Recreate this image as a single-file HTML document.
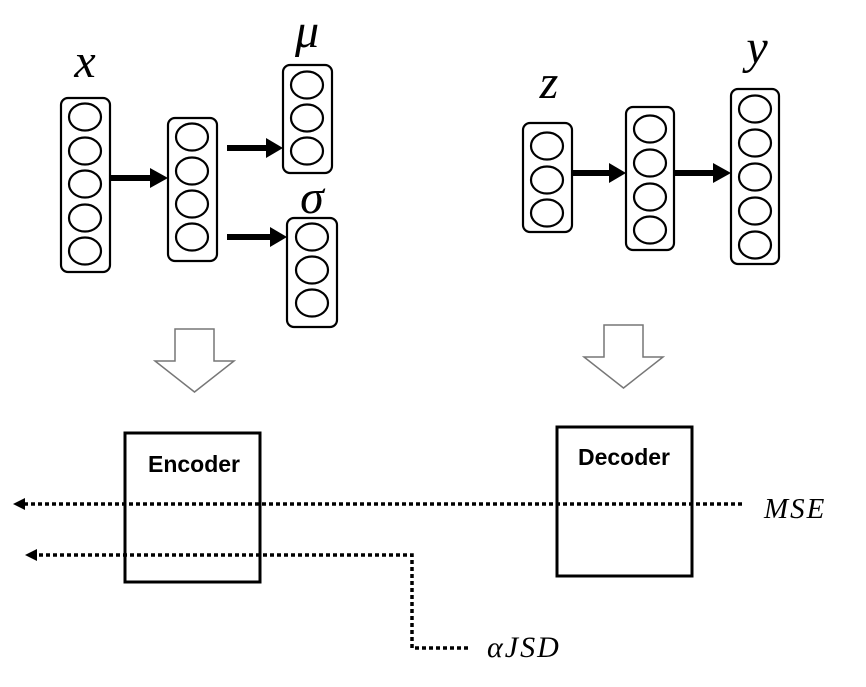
<!DOCTYPE html>
<html><head><meta charset="utf-8"><style>
html,body{margin:0;padding:0;background:#fff;}
svg{display:block;}
.m{font-family:"Liberation Serif",serif;font-style:italic;}
</style></head><body>
<svg width="866" height="687" viewBox="0 0 866 687" xmlns="http://www.w3.org/2000/svg">
<g fill="none" stroke="#000" stroke-width="2.2">
<rect x="61" y="98" width="49" height="174" rx="7"/>
<ellipse cx="85" cy="117" rx="16" ry="13.5"/><ellipse cx="85" cy="151" rx="16" ry="13.5"/><ellipse cx="85" cy="184" rx="16" ry="13.5"/><ellipse cx="85" cy="218" rx="16" ry="13.5"/><ellipse cx="85" cy="251" rx="16" ry="13.5"/>
<rect x="168" y="118" width="49" height="143" rx="7"/>
<ellipse cx="192" cy="137" rx="16" ry="13.5"/><ellipse cx="192" cy="171" rx="16" ry="13.5"/><ellipse cx="192" cy="204" rx="16" ry="13.5"/><ellipse cx="192" cy="237" rx="16" ry="13.5"/>
<rect x="283" y="65" width="49" height="108" rx="7"/>
<ellipse cx="307" cy="85" rx="16" ry="13.5"/><ellipse cx="307" cy="118" rx="16" ry="13.5"/><ellipse cx="307" cy="151" rx="16" ry="13.5"/>
<rect x="287" y="218" width="50" height="109" rx="7"/>
<ellipse cx="312" cy="237" rx="16" ry="13.5"/><ellipse cx="312" cy="270" rx="16" ry="13.5"/><ellipse cx="312" cy="303" rx="16" ry="13.5"/>
<rect x="523" y="123" width="49" height="109" rx="7"/>
<ellipse cx="547" cy="146" rx="16" ry="13.5"/><ellipse cx="547" cy="180" rx="16" ry="13.5"/><ellipse cx="547" cy="213" rx="16" ry="13.5"/>
<rect x="626" y="107" width="48" height="143" rx="7"/>
<ellipse cx="650" cy="129" rx="16" ry="13.5"/><ellipse cx="650" cy="163" rx="16" ry="13.5"/><ellipse cx="650" cy="197" rx="16" ry="13.5"/><ellipse cx="650" cy="230" rx="16" ry="13.5"/>
<rect x="731" y="89" width="48" height="175" rx="7"/>
<ellipse cx="755" cy="109" rx="16" ry="13.5"/><ellipse cx="755" cy="143" rx="16" ry="13.5"/><ellipse cx="755" cy="177" rx="16" ry="13.5"/><ellipse cx="755" cy="211" rx="16" ry="13.5"/><ellipse cx="755" cy="245" rx="16" ry="13.5"/>
</g>
<g fill="#000">
<rect x="110" y="175" width="42" height="6"/><path d="M150,168 L168,178 L150,188 z"/>
<rect x="227" y="145" width="42" height="6"/><path d="M266,138 L283,148 L266,158 z"/>
<rect x="227" y="234" width="44" height="6"/><path d="M270,227 L287,237 L270,247 z"/>
<rect x="572" y="170" width="40" height="6"/><path d="M609,163 L626,173 L609,183 z"/>
<rect x="674" y="170" width="42" height="6"/><path d="M713,163 L731,173 L713,183 z"/>
</g>
<g fill="#fff" stroke="#777" stroke-width="1.5">
<path d="M175,329 L214,329 L214,361 L234,361 L194.5,392 L155,361 L175,361 z"/>
<path d="M604,325 L643,325 L643,357 L663,357 L623.5,388 L584,357 L604,357 z"/>
</g>
<g fill="none" stroke="#000" stroke-width="3">
<rect x="125" y="433" width="135" height="149"/>
<rect x="557" y="427" width="135" height="149"/>
</g>
<text x="194" y="472" text-anchor="middle" font-family="Liberation Sans, sans-serif" font-weight="bold" font-size="23">Encoder</text>
<text x="624" y="465" text-anchor="middle" font-family="Liberation Sans, sans-serif" font-weight="bold" font-size="23">Decoder</text>
<g fill="none" stroke="#000" stroke-width="3.5" stroke-dasharray="4 3">
<line x1="742" y1="504" x2="24" y2="504"/>
<polyline points="468,648 412,648 412,555 36,555"/>
</g>
<path d="M13,504 L25,498 L25,510 z" fill="#000"/>
<path d="M25,555 L37,549 L37,561 z" fill="#000"/>
<text x="85" y="77" class="m" font-size="48" text-anchor="middle">x</text>
<text x="307" y="47" class="m" font-size="48" text-anchor="middle">μ</text>
<text x="312" y="213" class="m" font-size="48" text-anchor="middle">σ</text>
<text x="549" y="98" class="m" font-size="48" text-anchor="middle">z</text>
<text x="757" y="63" class="m" font-size="48" text-anchor="middle">y</text>
<text x="764" y="518" class="m" font-size="29" letter-spacing="2">MSE</text>
<text x="487" y="657" class="m" font-size="30" letter-spacing="2">αJSD</text>
</svg>
</body></html>
